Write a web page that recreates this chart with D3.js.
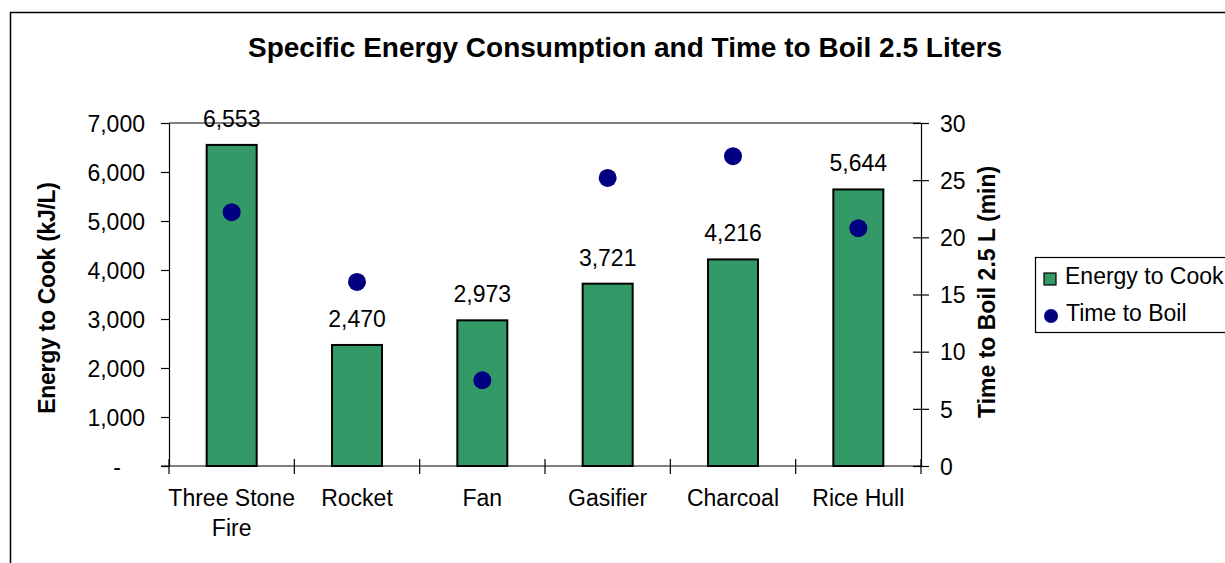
<!DOCTYPE html>
<html>
<head>
<meta charset="utf-8">
<script src="https://cdn.jsdelivr.net/npm/d3@7"></script>
<style>
  body { margin: 0; background: #fff; }
  svg { font-family: "Liberation Sans", Arial, sans-serif; }
  .axis text { font-size: 23px; fill: #000; }
  .axis path, .axis line { stroke: #000; stroke-width: 1.2; }
</style>
</head>
<body>
<div class="chart"></div>
<script>
// stove categories and the two series
var stoves = [["Three Stone", "Fire"], ["Rocket"], ["Fan"], ["Gasifier"], ["Charcoal"], ["Rice Hull"]];
var energyToCook = [6553, 2470, 2973, 3721, 4216, 5644];
var timeToBoil = [22.2, 16.1, 7.5, 25.2, 27.1, 20.8];
var energyTicks = [0, 1000, 2000, 3000, 4000, 5000, 6000, 7000];
var timeTicks = [0, 5, 10, 15, 20, 25, 30];

var svgWidth = 1225;
var svgHeight = 563;

var plot = { left: 169, right: 921, top: 123, bottom: 466 };

var svg = d3.select(".chart")
  .append("svg")
  .attr("width", svgWidth)
  .attr("height", svgHeight);

// outer chart border (runs off the right and bottom)
svg.append("rect")
  .attr("x", 10.5).attr("y", 12.5)
  .attr("width", 1300).attr("height", 600)
  .attr("fill", "none")
  .attr("stroke", "#000")
  .attr("stroke-width", 1.5);

svg.append("text")
  .attr("x", 625).attr("y", 57)
  .attr("text-anchor", "middle")
  .attr("font-size", "28px")
  .attr("font-weight", "bold")
  .text("Specific Energy Consumption and Time to Boil 2.5 Liters");

var names = stoves.map(d => d.join(" "));

var xScale = d3.scaleBand()
  .domain(names)
  .range([plot.left, plot.right]);

var yEnergy = d3.scaleLinear()
  .domain([0, 7000])
  .range([plot.bottom, plot.top]);

var yTime = d3.scaleLinear()
  .domain([0, 30])
  .range([plot.bottom, plot.top]);

// plot area top border
svg.append("line")
  .attr("x1", plot.left).attr("x2", plot.right)
  .attr("y1", plot.top).attr("y2", plot.top)
  .attr("stroke", "#808080")
  .attr("stroke-width", 2);

// left axis
var leftAxis = d3.axisLeft(yEnergy)
  .tickValues(energyTicks)
  .tickSizeInner(8)
  .tickSizeOuter(0)
  .tickPadding(16)
  .tickFormat(d => d === 0 ? "-" : d3.format(",")(d));

var leftG = svg.append("g")
  .attr("class", "axis")
  .attr("transform", `translate(${plot.left},0)`)
  .call(leftAxis);
leftG.selectAll(".tick text").attr("dy", "0.36em")
  .filter(d => d === 0).attr("dx", -24);

// right axis with crossing ticks
var rightAxis = d3.axisRight(yTime)
  .tickValues(timeTicks)
  .tickSizeInner(8)
  .tickSizeOuter(0)
  .tickPadding(11);

var rightG = svg.append("g")
  .attr("class", "axis")
  .attr("transform", `translate(${plot.right},0)`)
  .call(rightAxis);
rightG.selectAll(".tick line").attr("x1", -8);
rightG.selectAll(".tick text").attr("dy", "0.36em");

// x axis line and boundary ticks
svg.append("line")
  .attr("x1", plot.left - 8).attr("x2", plot.right)
  .attr("y1", plot.bottom).attr("y2", plot.bottom)
  .attr("stroke", "#000").attr("stroke-width", 1.2);

var bounds = names.map(n => xScale(n)).concat([plot.right]);
svg.selectAll(".xtick")
  .data(bounds)
  .enter()
  .append("line")
  .attr("class", "xtick")
  .attr("x1", d => d).attr("x2", d => d)
  .attr("y1", plot.bottom - 7).attr("y2", plot.bottom + 8)
  .attr("stroke", "#000").attr("stroke-width", 1.2);

// category labels
var catLabels = svg.selectAll(".cat")
  .data(stoves)
  .enter()
  .append("text")
  .attr("class", "cat")
  .attr("text-anchor", "middle")
  .attr("font-size", "23px");
catLabels.each(function(d, i) {
  var t = d3.select(this);
  var cx = xScale(names[i]) + xScale.bandwidth() / 2;
  d.forEach(function(line, j) {
    t.append("tspan")
      .attr("x", cx)
      .attr("y", 506 + j * 30)
      .text(line);
  });
});

// bars
var barW = 50;
svg.selectAll(".bar")
  .data(energyToCook)
  .enter()
  .append("rect")
  .attr("class", "bar")
  .attr("x", (d, i) => xScale(names[i]) + xScale.bandwidth() / 2 - barW / 2)
  .attr("y", d => yEnergy(d))
  .attr("width", barW)
  .attr("height", d => plot.bottom - yEnergy(d))
  .attr("fill", "#339966")
  .attr("stroke", "#000")
  .attr("stroke-width", 2);

// bar value labels
svg.selectAll(".val")
  .data(energyToCook)
  .enter()
  .append("text")
  .attr("class", "val")
  .attr("x", (d, i) => xScale(names[i]) + xScale.bandwidth() / 2)
  .attr("y", d => yEnergy(d) - 18)
  .attr("text-anchor", "middle")
  .attr("font-size", "23px")
  .text(d => d3.format(",")(d));

// time to boil points
svg.selectAll(".dot")
  .data(timeToBoil)
  .enter()
  .append("circle")
  .attr("class", "dot")
  .attr("cx", (d, i) => xScale(names[i]) + xScale.bandwidth() / 2)
  .attr("cy", d => yTime(d))
  .attr("r", 9)
  .attr("fill", "#000080");

// axis titles
svg.append("text")
  .attr("transform", "translate(55,298) rotate(-90)")
  .attr("text-anchor", "middle")
  .attr("font-size", "23px")
  .attr("font-weight", "bold")
  .attr("letter-spacing", "-0.3")
  .text("Energy to Cook (kJ/L)");

// right title is cut off at the top in the original
svg.append("clipPath").attr("id", "rclip")
  .append("rect").attr("x", 960).attr("y", 166).attr("width", 60).attr("height", 300);

svg.append("g")
  .attr("clip-path", "url(#rclip)")
  .append("text")
  .attr("transform", "translate(995,418) rotate(-90)")
  .attr("text-anchor", "start")
  .attr("font-size", "23px")
  .attr("font-weight", "bold")
  .text("Time to Boil 2.5 L (min)");

// legend
var legend = svg.append("g");
legend.append("rect")
  .attr("x", 1035.5).attr("y", 257.5)
  .attr("width", 250).attr("height", 75)
  .attr("fill", "#fff")
  .attr("stroke", "#000")
  .attr("stroke-width", 1.2);
legend.append("rect")
  .attr("x", 1044).attr("y", 273)
  .attr("width", 12).attr("height", 12)
  .attr("fill", "#339966")
  .attr("stroke", "#000")
  .attr("stroke-width", 1.2);
legend.append("text")
  .attr("x", 1065).attr("y", 284)
  .attr("font-size", "23px")
  .text("Energy to Cook");
legend.append("circle")
  .attr("cx", 1051).attr("cy", 316)
  .attr("r", 7)
  .attr("fill", "#000080");
legend.append("text")
  .attr("x", 1066).attr("y", 321)
  .attr("font-size", "23px")
  .text("Time to Boil");
</script>
</body>
</html>
